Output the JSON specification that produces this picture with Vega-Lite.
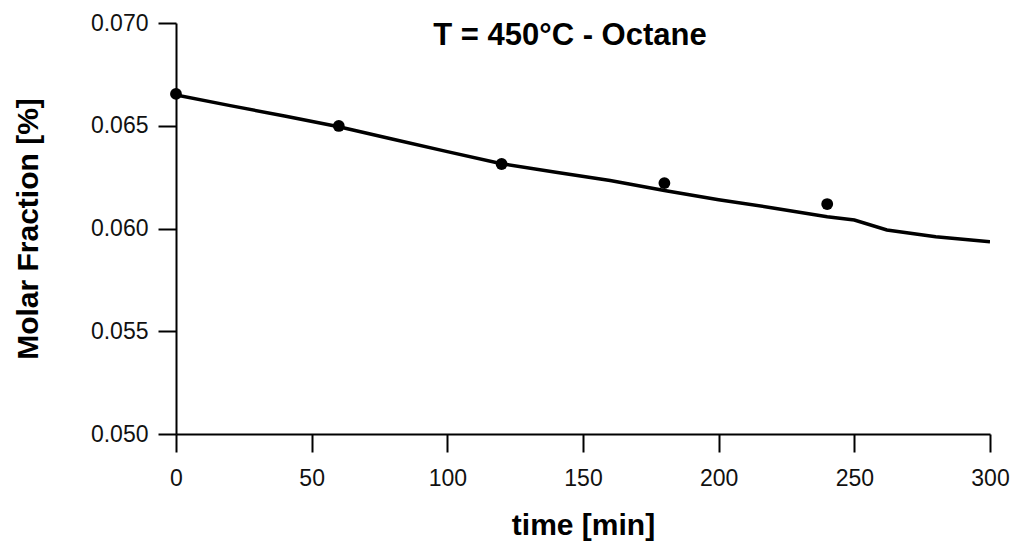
{
  "$schema": "https://vega.github.io/schema/vega-lite/v6.json",
  "width": 814,
  "height": 411,
  "autosize": {"type": "none"},
  "padding": {"left": 176, "top": 23, "right": 25, "bottom": 109},
  "background": "white",
  "config": {
    "view": {"stroke": null},
    "font": "Liberation Sans",
    "axis": {
      "grid": false,
      "domainColor": "#000000",
      "domainWidth": 2,
      "tickColor": "#000000",
      "tickWidth": 2,
      "tickSize": 18,
      "labelFlush": false,
      "labelOverlap": false,
      "labelFont": "Liberation Sans",
      "labelFontSize": 23,
      "labelColor": "#111111",
      "titleFont": "Liberation Sans",
      "titleFontSize": 30,
      "titleFontWeight": "bold",
      "titleColor": "#000000"
    }
  },
  "title": {
    "text": "T = 450°C - Octane",
    "font": "Liberation Sans",
    "fontSize": 31,
    "fontWeight": "bold",
    "color": "#000000",
    "anchor": "middle",
    "frame": "group",
    "dx": -13,
    "offset": -40
  },
  "datasets": {
    "model": [
      {"time": 0, "fraction": 0.06650},
      {"time": 20, "fraction": 0.06598},
      {"time": 40, "fraction": 0.06547},
      {"time": 60, "fraction": 0.06495},
      {"time": 80, "fraction": 0.06434},
      {"time": 100, "fraction": 0.06374},
      {"time": 120, "fraction": 0.06315},
      {"time": 140, "fraction": 0.06274},
      {"time": 160, "fraction": 0.06234},
      {"time": 180, "fraction": 0.06185},
      {"time": 200, "fraction": 0.06140},
      {"time": 220, "fraction": 0.06100},
      {"time": 240, "fraction": 0.06057},
      {"time": 250, "fraction": 0.06041},
      {"time": 262, "fraction": 0.05993},
      {"time": 280, "fraction": 0.05960},
      {"time": 300, "fraction": 0.05936}
    ],
    "measured": [
      {"time": 0, "fraction": 0.06655},
      {"time": 60, "fraction": 0.06499},
      {"time": 120, "fraction": 0.06314},
      {"time": 180, "fraction": 0.06221},
      {"time": 240, "fraction": 0.06119}
    ]
  },
  "layer": [
    {
      "data": {"name": "model"},
      "mark": {"type": "line", "color": "#000000", "strokeWidth": 3.5, "clip": true},
      "encoding": {
        "x": {
          "field": "time",
          "type": "quantitative",
          "scale": {"domain": [0, 300], "nice": false},
          "axis": {"values": [0, 50, 100, 150, 200, 250, 300], "title": "time [min]", "labelPadding": 15, "titlePadding": 20}
        },
        "y": {
          "field": "fraction",
          "type": "quantitative",
          "scale": {"domain": [0.05, 0.07], "nice": false, "zero": false},
          "axis": {"values": [0.05, 0.055, 0.06, 0.065, 0.07], "format": ".3f", "title": "Molar Fraction [%]", "labelPadding": 10, "titlePadding": 47}
        }
      }
    },
    {
      "data": {"name": "measured"},
      "mark": {"type": "point", "filled": true, "color": "#000000", "opacity": 1, "size": 140},
      "encoding": {
        "x": {"field": "time", "type": "quantitative"},
        "y": {"field": "fraction", "type": "quantitative"}
      }
    }
  ]
}
